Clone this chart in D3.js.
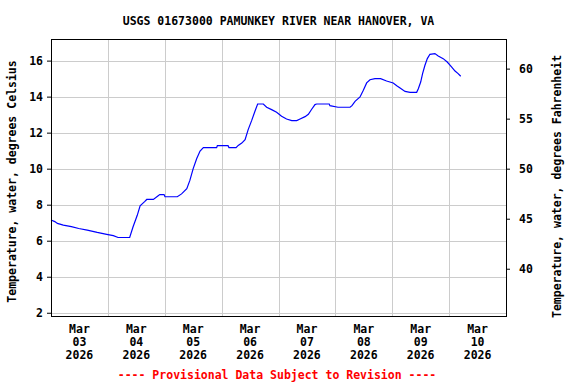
<!doctype html>
<html>
<head>
    <script src="https://d3js.org/d3.v7.min.js"></script>
    <style>
        body { margin: 0; background: #fff; }
        text { font-family: "DejaVu Sans Mono", "Liberation Mono", monospace; font-weight: bold; font-size: 11.5px; }
    </style>
</head>
<body>

    <svg width="576" height="384"></svg>

    <script>

        // hours after Mar 03 2026 00:00, and water temperature in deg C
        var hours = [0, 1.6, 2.7, 5.2, 8.6, 11.7, 15.3, 19.5, 23.5, 26.3, 28.3, 33.2, 34.6, 36.4, 37.6, 39.5, 40.4, 43.2, 45.1, 45.9,
                     47.7, 48.1, 53.3, 55.1, 57.3, 58.6, 60.0, 61.5, 62.9, 64.3, 69.9, 70.2, 74.7, 75.1, 78.1, 79.0, 80.5, 81.9, 83.2, 84.7,
                     86.1, 87.2, 89.6, 91.0, 93.1, 95.2, 97.3, 99.4, 101.6, 103.7, 105.1, 107.2, 108.6, 110.0, 111.4, 112.1, 117.4, 117.7, 121.1, 126.2,
                     127.0, 128.3, 130.4, 131.8, 133.2, 134.6, 136.7, 139.1, 141.6, 144.4, 145.9, 147.3, 149.4, 151.5, 154.3, 155.0, 156.0, 156.8, 157.8, 158.8,
                     159.9, 162.0, 163.4, 165.5, 167.2, 169.1, 170.5, 171.8, 172.9];
        var tempC = [7.15, 7.06, 6.96, 6.87, 6.78, 6.68, 6.59, 6.46, 6.35, 6.28, 6.18, 6.18, 6.76, 7.41, 7.94, 8.17, 8.29, 8.29, 8.48, 8.56,
                     8.56, 8.44, 8.44, 8.6, 8.89, 9.35, 10.0, 10.56, 10.98, 11.17, 11.17, 11.28, 11.28, 11.17, 11.17, 11.29, 11.42, 11.61, 12.17, 12.68,
                     13.2, 13.59, 13.59, 13.41, 13.28, 13.13, 12.91, 12.76, 12.67, 12.67, 12.76, 12.89, 13.02, 13.3, 13.56, 13.59, 13.59, 13.5, 13.41, 13.41,
                     13.5, 13.74, 13.98, 14.35, 14.76, 14.94, 15.0, 15.0, 14.87, 14.76, 14.61, 14.48, 14.29, 14.24, 14.24, 14.44, 14.81, 15.28, 15.74, 16.11,
                     16.35, 16.39, 16.26, 16.11, 15.92, 15.64, 15.42, 15.28, 15.13];

        var dayLabels = ["03", "04", "05", "06", "07", "08", "09", "10"];
        var cTicks = [2, 4, 6, 8, 10, 12, 14, 16];
        var fTicks = [40, 45, 50, 55, 60];

        var start = Date.UTC(2026, 2, 3);
        var data = hours.map(function(h, i) { return {t: new Date(start + h * 3600000), v: tempC[i]}; });

        var svg = d3.select("svg"),
            margin = {top: 39, right: 70, bottom: 68, left: 51},
            width = 576 - margin.left - margin.right,
            height = 384 - margin.top - margin.bottom;

        var x = d3.scaleUtc().domain([new Date(start), new Date(start + 8 * 86400000)]).range([0, width]);
        var y = d3.scaleLinear().domain([1.82, 17.2]).range([height, 0]);
        var yF = d3.scaleLinear().domain([1.82 * 9 / 5 + 32, 17.2 * 9 / 5 + 32]).range([height, 0]);

        var g = svg.append("g").attr("transform", "translate(" + margin.left + "," + margin.top + ")");

        // grid
        var days = d3.range(1, 8).map(function(d) { return new Date(start + d * 86400000); });
        g.selectAll(".vgrid").data(days).enter().append("line")
            .attr("x1", function(d) { return Math.round(x(d)) + 0.5; })
            .attr("x2", function(d) { return Math.round(x(d)) + 0.5; })
            .attr("y1", 0).attr("y2", height)
            .attr("stroke", "#cccccc");
        g.selectAll(".hgrid").data(cTicks).enter().append("line")
            .attr("x1", 0).attr("x2", width)
            .attr("y1", function(d) { return Math.round(y(d)) + 0.5; })
            .attr("y2", function(d) { return Math.round(y(d)) + 0.5; })
            .attr("stroke", "#cccccc");

        // left axis
        var left = g.append("g").call(d3.axisLeft(y).tickValues(cTicks).tickSize(4).tickPadding(4));
        left.select(".domain").remove();
        left.selectAll("text").style("font-size", "11.5px").attr("fill", "#000");

        // right axis
        var right = g.append("g").attr("transform", "translate(" + width + ",0)")
            .call(d3.axisRight(yF).tickValues(fTicks).tickSize(4).tickPadding(9));
        right.select(".domain").remove();
        right.selectAll("text").style("font-size", "11.5px").attr("fill", "#000");

        // x labels at noon of each day
        var lab = g.selectAll(".xlab").data(dayLabels).enter().append("text")
            .attr("text-anchor", "middle")
            .attr("transform", function(d, i) { return "translate(" + x(new Date(start + (i + 0.5) * 86400000)) + "," + (height + 17) + ")"; });
        lab.append("tspan").attr("x", 0).attr("y", 0).text("Mar");
        lab.append("tspan").attr("x", 0).attr("y", 13).text(function(d) { return d; });
        lab.append("tspan").attr("x", 0).attr("y", 26).text("2026");

        // data line
        var line = d3.line().x(function(d) { return x(d.t); }).y(function(d) { return y(d.v); });
        g.append("path").datum(data)
            .attr("d", line)
            .attr("fill", "none")
            .attr("stroke", "#0000ff")
            .attr("stroke-width", 1.2);

        // border
        g.append("rect").attr("x", 0.5).attr("y", 0.5).attr("width", width).attr("height", height)
            .attr("fill", "none").attr("stroke", "#000");

        svg.append("text")
            .attr("x", margin.left + width / 2).attr("y", 25)
            .attr("text-anchor", "middle")
            .text("USGS 01673000 PAMUNKEY RIVER NEAR HANOVER, VA");

        svg.append("text")
            .attr("transform", "translate(16," + (margin.top + height / 2 + 4) + ") rotate(-90)")
            .attr("text-anchor", "middle")
            .text("Temperature, water, degrees Celsius");

        svg.append("text")
            .attr("transform", "translate(561," + (margin.top + height / 2 + 9) + ") rotate(-90)")
            .attr("text-anchor", "middle")
            .text("Temperature, water, degrees Fahrenheit");

        svg.append("text")
            .attr("x", 277).attr("y", 379)
            .attr("text-anchor", "middle")
            .attr("fill", "#ff0000")
            .text("---- Provisional Data Subject to Revision ----");

    </script>
</body>
</html>
